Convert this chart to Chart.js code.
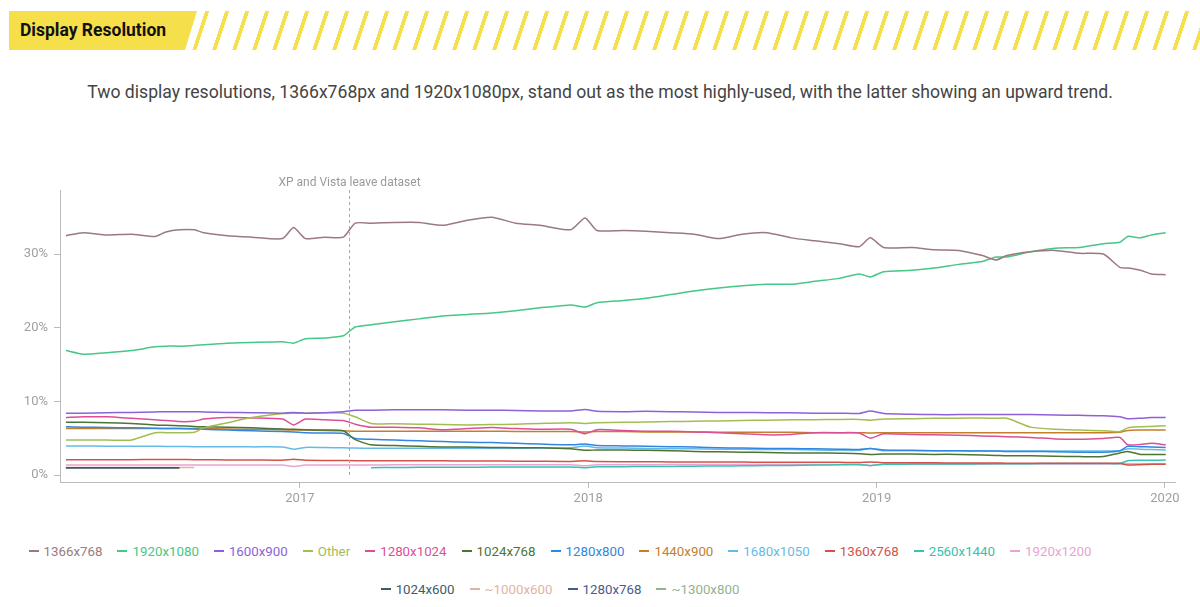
<!DOCTYPE html>
<html>
<head>
<meta charset="utf-8">
<title>Display Resolution</title>
<script src="https://cdn.jsdelivr.net/npm/chart.js@4.4.1/dist/chart.umd.min.js"></script>
<style>
  body { margin: 0; width: 1200px; height: 607px; background: #fff; overflow: hidden; position: relative; font-family: Roboto, sans-serif; }
  #title { position: absolute; left: 9px; top: 11px; width: 177px; height: 39px; padding-left: 11px; background: #f5e04b;
           clip-path: polygon(0 0, 100% 0, calc(100% - 12px) 100%, 0 100%);
           font: bold 17.5px Roboto, sans-serif; line-height: 39px; color: #111; }
  #stripes { position: absolute; left: 205px; top: 11px; width: 1010px; height: 39px; transform-origin: 0 0; transform: skewX(-18deg);
             background: repeating-linear-gradient(to right, #f5e04b 0 4px, transparent 4px 20px); }
  #subtitle { position: absolute; left: 0; top: 82px; width: 1200px; text-align: center; font: 17.6px Roboto, sans-serif; color: #444; }
  #chartBox { position: absolute; left: 0; top: 150px; width: 1200px; height: 369px; }
  #legend { position: absolute; left: -40px; width: 1200px; top: 542px; font: 13.3px Roboto, sans-serif; line-height: 20px; }
  #legend .row { display: flex; justify-content: center; column-gap: 15px; height: 20px; margin-bottom: 18px; }
  #legend i { display: inline-block; width: 10px; height: 2px; margin-right: 5px; vertical-align: middle; position: relative; top: -1px; }
</style>
</head>
<body>
<div id="title">Display Resolution</div>
<div id="stripes"></div>
<div id="subtitle">Two display resolutions, 1366x768px and 1920x1080px, stand out as the most highly-used, with the latter showing an upward trend.</div>
<div id="chartBox"><canvas id="resChart"></canvas></div>
<div id="legend"></div>
<script>
// sample dates (share of users, %)
const dates = ['2016-03-10','2016-04-01','2016-05-01','2016-06-01','2016-07-01','2016-07-15','2016-08-01','2016-08-20','2016-09-01','2016-10-01',
  '2016-11-01','2016-12-10','2016-12-24','2017-01-08','2017-02-01','2017-02-25','2017-03-12','2017-04-01','2017-05-01','2017-06-01',
  '2017-07-01','2017-08-01','2017-09-01','2017-10-01','2017-11-01','2017-12-10','2017-12-28','2018-01-12','2018-02-15','2018-03-15',
  '2018-04-15','2018-05-15','2018-06-15','2018-07-15','2018-08-15','2018-09-15','2018-10-15','2018-11-15','2018-12-10','2018-12-24',
  '2019-01-10','2019-02-15','2019-03-15','2019-04-15','2019-05-15','2019-06-01','2019-06-15','2019-07-15','2019-08-15','2019-09-15',
  '2019-10-15','2019-11-05','2019-11-15','2019-12-01','2019-12-15','2020-01-02'];

const labels = ['1366x768','1920x1080','1600x900','Other','1280x1024','1024x768','1280x800','1440x900',
  '1680x1050','1360x768','2560x1440','1920x1200','1024x600','~1000x600','1280x768','~1300x800'];

const colors = ['#9a7a7e','#45c785','#8d62d9','#a2bd52','#dc4f95','#4c7534','#3186e2','#c37f2c',
  '#66bbe6','#d5514a','#36c3b2','#eaa3d3','#3c5c6a','#e2b3a3','#4a5b8b','#93b393'];

const s1366x768 = [32.5,32.9,32.6,32.7,32.4,33.0,33.3,33.3,32.9,32.5, 32.3,32.1,33.6,32.1,32.3,32.3,34.2,34.2,34.3,34.3,
  33.9,34.6,35.0,34.2,33.9,33.3,34.9,33.2,33.2,33.1, 32.9,32.7,32.1,32.7,32.9,32.2,31.8,31.4,31.0,32.2,
  30.9,30.9,30.6,30.5,29.8,29.2,29.8,30.3,30.5,30.1, 30.0,28.2,28.1,27.8,27.3,27.2];
const s1920x1080 = [16.9,16.4,16.6,16.9,17.4,17.5,17.5,17.6,17.7,17.9, 18.0,18.1,17.9,18.5,18.6,18.9,20.1,20.4,20.8,21.2,
  21.6,21.8,22.0,22.3,22.7,23.1,22.8,23.4,23.7,24.0, 24.5,25.0,25.4,25.7,25.9,25.9,26.3,26.7,27.3,26.9,
  27.6,27.8,28.1,28.6,29.0,29.6,29.6,30.3,30.8,30.9, 31.4,31.6,32.4,32.2,32.6,32.9];
const s1600x900 = [8.4,8.4,8.45,8.5,8.55,8.6,8.6,8.6,8.55,8.5, 8.45,8.4,8.5,8.4,8.45,8.6,8.8,8.8,8.85,8.85,
  8.85,8.8,8.8,8.75,8.7,8.7,8.9,8.65,8.6,8.65, 8.6,8.55,8.5,8.5,8.45,8.45,8.4,8.4,8.35,8.7,
  8.35,8.25,8.2,8.2,8.2,8.2,8.2,8.2,8.15,8.1, 8.05,7.9,7.65,7.7,7.8,7.8];
const sOther = [4.75,4.75,4.75,4.75,5.75,5.75,5.75,5.8,6.4,7.1, 7.8,8.35,8.4,8.4,8.45,8.4,7.9,7.0,6.95,6.9,
  6.85,6.8,6.85,6.9,7.0,7.1,7.0,7.1,7.15,7.2, 7.25,7.3,7.35,7.4,7.45,7.5,7.5,7.55,7.55,7.45,
  7.6,7.65,7.7,7.7,7.75,7.7,7.7,6.5,6.2,6.1, 6.0,5.9,6.4,6.55,6.6,6.7];
const s1280x1024 = [7.8,7.9,7.9,7.7,7.5,7.4,7.25,7.3,7.6,7.8, 7.75,7.6,6.8,7.6,7.5,7.4,6.9,6.5,6.5,6.4,
  6.15,6.3,6.45,6.3,6.2,6.2,5.6,6.15,6.05,5.95, 5.95,5.85,5.75,5.6,5.45,5.5,5.75,5.75,5.7,5.0,
  5.6,5.5,5.45,5.4,5.3,5.25,5.2,5.1,4.9,4.85, 4.95,5.1,4.1,4.15,4.3,4.1];
const s1024x768 = [7.15,7.15,7.1,7.0,6.8,6.75,6.7,6.6,6.55,6.5, 6.4,6.25,6.2,6.15,6.1,6.0,4.8,4.1,4.0,3.9,
  3.8,3.8,3.75,3.7,3.7,3.55,3.35,3.4,3.4,3.35, 3.3,3.2,3.15,3.1,3.05,3.0,3.0,2.95,2.9,2.8,
  2.85,2.85,2.8,2.8,2.7,2.65,2.6,2.6,2.55,2.5, 2.5,3.0,3.2,2.8,2.8,2.8];
const s1280x800 = [6.55,6.5,6.45,6.4,6.35,6.3,6.3,6.25,6.2,6.1, 6.0,5.9,5.85,5.75,5.7,5.65,4.95,4.85,4.75,4.65,
  4.55,4.45,4.4,4.3,4.2,4.1,4.2,4.0,3.95,3.9, 3.85,3.8,3.7,3.65,3.6,3.6,3.55,3.5,3.45,3.6,
  3.4,3.35,3.3,3.3,3.25,3.25,3.2,3.2,3.15,3.1, 3.1,3.3,3.9,3.85,3.8,3.75];
const s1440x900 = [6.3,6.3,6.3,6.3,6.3,6.3,6.3,6.3,6.3,6.25, 6.2,6.15,6.1,6.1,6.05,6.0,5.95,5.95,5.95,5.95,
  5.95,5.95,5.95,5.9,5.9,5.9,5.85,5.9,5.9,5.85, 5.85,5.85,5.8,5.8,5.8,5.8,5.75,5.75,5.75,5.7,
  5.75,5.75,5.75,5.75,5.75,5.75,5.75,5.75,5.75,5.75, 5.75,5.8,6.05,6.1,6.1,6.1];
const s1680x1050 = [3.95,3.95,3.92,3.9,3.9,3.88,3.88,3.85,3.85,3.85, 3.82,3.8,3.5,3.75,3.72,3.7,3.65,3.62,3.62,3.62,
  3.62,3.62,3.62,3.62,3.65,3.7,3.95,3.7,3.65,3.6, 3.55,3.55,3.5,3.5,3.45,3.45,3.4,3.35,3.35,3.6,
  3.3,3.3,3.3,3.3,3.28,3.27,3.26,3.25,3.25,3.25, 3.25,3.3,3.55,3.5,3.45,3.4];
const s1360x768 = [2.08,2.08,2.08,2.08,2.1,2.1,2.1,2.08,2.08,2.05, 2.05,2.02,2.15,2.0,1.98,1.98,1.95,1.95,1.95,1.93,
  1.92,1.9,1.9,1.88,1.86,1.85,1.95,1.82,1.8,1.8, 1.78,1.78,1.76,1.75,1.74,1.73,1.72,1.72,1.7,1.78,
  1.68,1.66,1.65,1.64,1.63,1.62,1.61,1.6,1.6,1.6, 1.6,1.58,1.36,1.4,1.45,1.45];
const s2560x1440 = [null,null,null,null,null,null,null,null,null,null, null,null,null,null,null,null,null,1.0,1.02,1.04,
  1.05,1.06,1.07,1.08,1.09,1.1,1.0,1.12,1.13,1.15, 1.17,1.2,1.22,1.25,1.28,1.3,1.35,1.38,1.4,1.3,
  1.45,1.48,1.5,1.5,1.52,1.52,1.53,1.54,1.55,1.55, 1.56,1.56,1.95,2.0,2.0,2.03];
const s1920x1200 = [1.36,1.36,1.36,1.36,1.36,1.36,1.36,1.36,1.36,1.36, 1.36,1.35,1.15,1.35,1.36,1.36,1.37,1.37,1.38,1.38,
  1.38,1.38,1.39,1.39,1.4,1.4,1.25,1.4,1.4,1.4, 1.41,1.41,1.42,1.42,1.43,1.43,1.44,1.44,1.45,1.25,
  1.45,1.46,1.46,1.47,1.47,1.48,1.48,1.49,1.49,1.5, 1.5,1.5,1.52,1.52,1.53,1.53];
// these four stop early in 2016
const s1024x600 = [1.0,1.0,1.0,1.0,1.0,1.0,1.0];
const s1000x600 = [1.02,1.02,1.02,1.02,1.02,1.02,1.02,1.02];
const s1280x768 = [0.98,0.98,0.98,0.98,0.98,0.98,0.98];
const s1300x800 = [0.96,0.96,0.96,0.96,0.96,0.96,0.96];

const series = [s1366x768, s1920x1080, s1600x900, sOther, s1280x1024, s1024x768, s1280x800, s1440x900,
  s1680x1050, s1360x768, s2560x1440, s1920x1200, s1024x600, s1000x600, s1280x768, s1300x800];

const tickYears = [2017, 2018, 2019, 2020];
const yTicks = [0, 10, 20, 30];
const xpDate = '2017-03-04';
const xpLabel = 'XP and Vista leave dataset';
const legendFirstRow = 12;

function toYear(str) {
  const [y, m, d] = str.split('-').map(Number);
  const start = Date.UTC(y, 0, 1);
  return y + (Date.UTC(y, m - 1, d) - start) / (Date.UTC(y + 1, 0, 1) - start);
}
const xs = dates.map(toYear);

const xpLine = {
  id: 'xpLine',
  afterDatasetsDraw(chart) {
    const { ctx, chartArea, scales } = chart;
    const x = Math.round(scales.x.getPixelForValue(toYear(xpDate))) + 0.5;
    ctx.save();
    ctx.strokeStyle = '#a8a8a8';
    ctx.lineWidth = 1;
    ctx.setLineDash([3, 3]);
    ctx.beginPath();
    ctx.moveTo(x, chartArea.top);
    ctx.lineTo(x, scales.y.getPixelForValue(0));
    ctx.stroke();
    ctx.setLineDash([]);
    ctx.fillStyle = '#9a9a9a';
    ctx.font = '12px Roboto, sans-serif';
    ctx.textAlign = 'center';
    ctx.textBaseline = 'bottom';
    ctx.fillText(xpLabel, x, chartArea.top - 1);
    ctx.restore();
  }
};

const chart = new Chart(document.getElementById('resChart'), {
  type: 'line',
  data: {
    datasets: series.map((vals, i) => ({
      label: labels[i],
      data: xs.map((x, j) => ({ x: x, y: vals[j] ?? null })),
      borderColor: colors[i],
      backgroundColor: colors[i],
      borderWidth: 1.5,
      pointRadius: 0,
      tension: 0.2,
      spanGaps: false
    }))
  },
  options: {
    responsive: true,
    maintainAspectRatio: false,
    animation: false,
    layout: { padding: { top: 40, right: 25, left: 0, bottom: 0 } },
    plugins: { legend: { display: false }, tooltip: { enabled: false } },
    scales: {
      x: {
        type: 'linear',
        min: 2016.168,
        max: 2020.035,
        afterBuildTicks: s => { s.ticks = tickYears.map(v => ({ value: v })); },
        afterFit: s => { s.height = 37; },
        ticks: { callback: v => String(v), color: '#a0a0a0', font: { family: 'Roboto', size: 13 }, padding: 3, maxRotation: 0, autoSkip: false },
        grid: { drawOnChartArea: false, drawTicks: true, tickLength: 6, color: '#bbb' },
        border: { color: '#bbb' }
      },
      y: {
        min: -0.95,
        max: 38.7,
        afterBuildTicks: s => { s.ticks = yTicks.map(v => ({ value: v })); },
        afterFit: s => { s.width = 60; },
        ticks: { callback: v => v + '%', color: '#a0a0a0', font: { family: 'Roboto', size: 13 }, padding: 6 },
        grid: { drawOnChartArea: false, drawTicks: true, tickLength: 6, color: '#bbb' },
        border: { color: '#bbb' }
      }
    }
  },
  plugins: [xpLine]
});

// html legend in two centered rows
const legendEl = document.getElementById('legend');
let row;
chart.data.datasets.forEach((ds, i) => {
  if (i === 0 || i === legendFirstRow) {
    row = document.createElement('div');
    row.className = 'row';
    legendEl.appendChild(row);
  }
  const item = document.createElement('span');
  item.style.color = ds.borderColor;
  item.innerHTML = '<i style="background:' + ds.borderColor + '"></i>' + ds.label;
  row.appendChild(item);
});
</script>
</body>
</html>
